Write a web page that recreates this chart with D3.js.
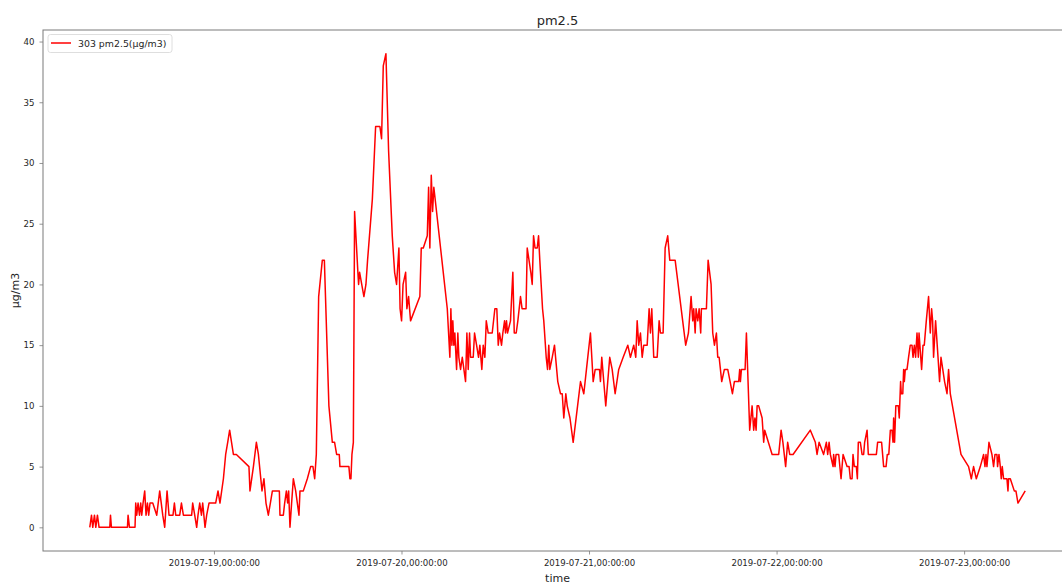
<!DOCTYPE html>
<html>
<head>
<meta charset="utf-8">
<script src="https://cdn.jsdelivr.net/npm/d3@7"></script>
<style>
  html, body { margin: 0; padding: 0; background: #fff; overflow: hidden; }
  svg { display: block; font-family: "DejaVu Sans", sans-serif; }
</style>
</head>
<body>
<svg id="chart" width="1062" height="585"></svg>
<script>
// Station 303, PM2.5 readings; time as hours after 2019-07-18 00:00
const seriesName = "303 pm2.5(μg/m3)";
const startDate = new Date(2019, 6, 18, 0, 0, 0);
const hours = [
  8.11, 8.33, 8.49, 8.71, 8.88, 9.09, 9.30, 10.67, 10.76, 10.88,
  12.93, 13.01, 13.19, 13.90, 13.99, 14.12, 14.29, 14.47, 14.63, 14.76,
  14.93, 15.14, 15.31, 15.49, 15.65, 15.82, 16.17, 16.68, 17.06, 17.45,
  17.70, 18.00, 18.25, 18.76, 18.94, 19.11, 19.62, 19.84, 20.09, 21.15,
  21.28, 21.54, 21.79, 21.96, 22.18, 22.40, 22.56, 22.86, 23.07, 23.37,
  24.22, 24.52, 24.77, 25.21, 25.50, 25.76, 26.01, 26.49, 26.87, 28.48,
  28.61, 29.05, 29.43, 29.69, 30.15, 30.40, 30.66, 30.96, 31.22, 31.48,
  32.37, 32.45, 32.88, 33.05, 33.27, 33.43, 33.56, 33.73, 33.94, 34.16,
  34.46, 34.67, 34.88, 35.01, 35.44, 35.95, 36.37, 36.67, 36.89, 37.10,
  37.40, 37.87, 38.13, 38.71, 39.15, 39.44, 39.70, 40.04, 40.12, 41.27,
  41.40, 41.53, 41.66, 41.84, 42.00, 42.42, 42.51, 42.64, 43.19, 43.45,
  43.66, 44.27, 44.69, 45.24, 45.45, 45.67, 46.01, 46.35, 46.82, 47.12,
  47.37, 47.67, 47.82, 48.01, 48.20, 48.53, 48.69, 48.91, 49.16, 50.35,
  50.53, 50.79, 51.30, 51.47, 51.63, 51.81, 51.98, 52.14, 53.86, 54.19,
  54.32, 54.45, 54.57, 54.70, 54.83, 55.05, 55.21, 55.34, 55.56, 55.78,
  56.20, 56.37, 56.54, 56.71, 56.84, 57.18, 57.35, 57.61, 57.86, 58.03,
  58.28, 58.46, 58.67, 58.85, 59.10, 59.61, 59.95, 60.20, 60.38, 60.55,
  60.80, 60.97, 61.19, 61.31, 61.44, 61.57, 61.95, 62.25, 62.43, 62.68,
  62.89, 63.23, 63.43, 63.94, 64.09, 64.55, 64.73, 64.90, 65.09, 65.37,
  65.54, 65.70, 66.05, 66.21, 66.52, 66.69, 66.85, 66.98, 67.29, 67.58,
  68.00, 68.35, 68.57, 68.77, 69.03, 69.21, 69.56, 69.97, 70.91, 71.33,
  71.67, 72.18, 72.53, 72.79, 73.34, 73.46, 73.63, 74.14, 74.65, 74.96,
  75.34, 75.80, 76.37, 76.96, 77.30, 77.72, 77.98, 78.16, 78.36, 78.58,
  78.80, 79.00, 79.44, 79.69, 79.86, 80.03, 80.28, 80.72, 80.97, 81.14,
  81.48, 81.74, 82.07, 82.33, 83.02, 84.37, 84.72, 85.06, 85.27, 85.40,
  85.58, 85.70, 85.91, 86.09, 86.29, 86.38, 87.02, 87.24, 87.62, 87.83,
  88.05, 88.30, 88.47, 88.65, 88.98, 89.32, 89.75, 90.35, 90.60, 91.15,
  91.28, 91.37, 91.50, 91.97, 92.14, 92.56, 92.87, 93.07, 93.23, 93.38,
  93.51, 93.71, 94.15, 94.35, 94.48, 95.43, 96.27, 96.58, 96.81, 97.16,
  97.42, 97.68, 98.11, 100.32, 100.96, 101.18, 101.44, 102.02, 102.37, 102.54,
  102.72, 102.88, 103.23, 103.30, 103.48, 103.61, 103.95, 104.25, 104.51, 105.02,
  105.28, 105.44, 105.66, 105.78, 105.95, 106.21, 106.34, 106.46, 106.72, 106.94,
  107.14, 107.27, 107.58, 107.74, 108.77, 108.93, 109.44, 109.70, 110.01, 110.17,
  110.36, 110.56, 110.77, 110.90, 110.98, 111.10, 111.26, 111.58, 111.70, 111.87,
  111.96, 112.15, 112.26, 112.35, 112.47, 112.69, 112.89, 113.11, 113.33, 113.46,
  113.63, 113.79, 113.97, 114.14, 114.23, 114.56, 114.74, 114.90, 115.16, 115.45,
  115.67, 115.84, 115.97, 116.09, 116.35, 116.66, 116.86, 117.04, 117.50, 117.81,
  118.01, 118.23, 119.60, 120.57, 120.92, 121.21, 121.56, 122.07, 122.49, 122.67,
  122.80, 122.92, 123.18, 123.56, 123.77, 123.95, 124.20, 124.28, 124.46, 124.63,
  124.75, 124.88, 125.05, 125.48, 125.61, 125.69, 125.91, 126.42, 126.63, 126.89,
  127.82
];
const pm25 = [
  0, 1, 0, 1, 0, 1, 0, 0, 1, 0,
  0, 1, 0, 0, 2, 1, 2, 1, 2, 1,
  2, 3, 1, 2, 1, 2, 2, 1, 3, 1,
  0, 3, 1, 1, 2, 1, 1, 2, 1, 1,
  2, 1, 0, 1, 2, 1, 2, 0, 1, 2,
  2, 3, 2, 4, 6, 7, 8, 6, 6, 5,
  3, 5, 7, 6, 3, 4, 2, 1, 2, 3,
  3, 1, 1, 2, 3, 2, 3, 0, 2, 4,
  3, 2, 1, 3, 3, 4, 5, 5, 4, 6,
  19, 22, 22, 10, 7, 7, 6, 6, 5, 5,
  4, 4, 6, 7, 26, 21, 20, 21, 19, 20,
  22, 27, 33, 33, 32, 38, 39, 31, 24, 21,
  20, 23, 18, 17, 20, 21, 18, 19, 17, 19,
  23, 23, 24, 28, 23, 29, 26, 28, 18, 14,
  18, 15, 17, 15, 16, 13, 16, 14, 13, 14,
  12, 16, 13, 16, 14, 14, 16, 15, 14, 15,
  13, 15, 14, 17, 16, 16, 18, 18, 15, 16,
  15, 16, 17, 16, 17, 16, 17, 21, 16, 16,
  17, 19, 18, 18, 23, 21, 20, 24, 23, 23,
  24, 22, 18, 17, 14, 13, 15, 13, 14, 15,
  12, 11, 11, 9, 11, 10, 9, 7, 12, 11,
  13, 16, 12, 13, 13, 12, 14, 10, 14, 13,
  11, 13, 14, 15, 14, 15, 14, 17, 15, 16,
  14, 15, 15, 18, 16, 18, 14, 14, 17, 16,
  16, 23, 24, 22, 22, 15, 16, 19, 17, 18,
  16, 18, 17, 18, 16, 18, 18, 22, 20, 16,
  15, 16, 14, 14, 12, 13, 13, 11, 12, 12,
  13, 12, 13, 13, 16, 8, 10, 8, 9, 8,
  10, 10, 9, 7, 8, 6, 6, 8, 7, 5,
  7, 6, 6, 8, 7, 6, 7, 6, 7, 6,
  7, 6, 5, 6, 5, 6, 6, 4, 6, 5,
  5, 4, 4, 6, 5, 5, 4, 7, 7, 6,
  6, 7, 8, 6, 6, 7, 7, 5, 5, 6,
  6, 8, 8, 7, 9, 7, 10, 10, 9, 12,
  11, 11, 13, 12, 13, 13, 14, 15, 15, 14,
  15, 14, 16, 14, 16, 13, 15, 15, 17, 19,
  16, 18, 17, 14, 17, 14, 12, 14, 12, 11,
  13, 11, 6, 5, 4, 5, 4, 5, 6, 5,
  6, 5, 7, 6, 5, 6, 6, 5, 6, 5,
  4, 5, 4, 4, 3, 4, 4, 3, 3, 2,
  3
];
const yTicks = [0, 5, 10, 15, 20, 25, 30, 35, 40];
const chartTitle = "pm2.5";
const xTitle = "time";
const yTitle = "μg/m3";

const data = hours.map((h, i) => ({
  t: new Date(startDate.getTime() + h * 3600 * 1000),
  v: pm25[i]
}));

// Axes frame (the right edge runs past the visible area)
const plotLeft = 43, plotRight = 1072, plotTop = 30, plotBottom = 551;

const tExtent = d3.extent(data, d => d.t);
const tPad = (tExtent[1] - tExtent[0]) * 0.05;
const x = d3.scaleTime()
  .domain([new Date(+tExtent[0] - tPad), new Date(+tExtent[1] + tPad)])
  .range([plotLeft, plotRight]);

const vMax = d3.max(data, d => d.v), vMin = d3.min(data, d => d.v);
const vPad = (vMax - vMin) * 0.05;
const y = d3.scaleLinear()
  .domain([vMin - vPad, vMax + vPad])
  .range([plotBottom, plotTop]);

const svg = d3.select("#chart");
const axisColor = "#7a7a7a";
const textColor = "#262626";

// Line
svg.append("path")
  .datum(data)
  .attr("fill", "none")
  .attr("stroke", "#ff0000")
  .attr("stroke-width", 1.5)
  .attr("stroke-linejoin", "round")
  .attr("d", d3.line().x(d => x(d.t)).y(d => y(d.v)));

// X axis
const xAxis = svg.append("g")
  .attr("transform", `translate(0,${plotBottom})`)
  .call(d3.axisBottom(x)
    .ticks(d3.timeDay.every(1))
    .tickFormat(d3.timeFormat("%Y-%m-%d,%H:%M:%S"))
    .tickSizeInner(3.5).tickSizeOuter(0).tickPadding(5));

// Y axis
const yAxis = svg.append("g")
  .attr("transform", `translate(${plotLeft},0)`)
  .call(d3.axisLeft(y).tickValues(yTicks)
    .tickSizeInner(3.5).tickSizeOuter(0).tickPadding(5));

[xAxis, yAxis].forEach(g => {
  g.select(".domain").remove();
  g.selectAll(".tick line").attr("stroke", axisColor).attr("stroke-width", 0.8);
  g.selectAll(".tick text")
    .attr("fill", textColor)
    .style("font-family", "DejaVu Sans")
    .style("font-size", "8.6px");
});

// Frame
svg.append("rect")
  .attr("x", plotLeft).attr("y", plotTop)
  .attr("width", plotRight - plotLeft).attr("height", plotBottom - plotTop)
  .attr("fill", "none")
  .attr("stroke", axisColor)
  .attr("stroke-width", 1);

// Titles
svg.append("text")
  .attr("x", (plotLeft + plotRight) / 2).attr("y", 25)
  .attr("text-anchor", "middle")
  .attr("fill", textColor)
  .style("font-size", "13px")
  .text(chartTitle);

svg.append("text")
  .attr("x", (plotLeft + plotRight) / 2).attr("y", 582)
  .attr("text-anchor", "middle")
  .attr("fill", textColor)
  .style("font-size", "11px")
  .text(xTitle);

svg.append("text")
  .attr("transform", `translate(19,${(plotTop + plotBottom) / 2}) rotate(-90)`)
  .attr("text-anchor", "middle")
  .attr("fill", textColor)
  .style("font-size", "11px")
  .text(yTitle);

// Legend
const legend = svg.append("g").attr("transform", `translate(48,34.5)`);
legend.append("rect")
  .attr("width", 124).attr("height", 18)
  .attr("rx", 2.5)
  .attr("fill", "#fff")
  .attr("fill-opacity", 0.8)
  .attr("stroke", "#d6d6d6")
  .attr("stroke-width", 0.8);
legend.append("line")
  .attr("x1", 3).attr("x2", 23)
  .attr("y1", 8.5).attr("y2", 8.5)
  .attr("stroke", "#ff0000").attr("stroke-width", 1.5);
legend.append("text")
  .attr("x", 30).attr("y", 12)
  .attr("fill", textColor)
  .style("font-size", "9.4px")
  .text(seriesName);
</script>
</body>
</html>
